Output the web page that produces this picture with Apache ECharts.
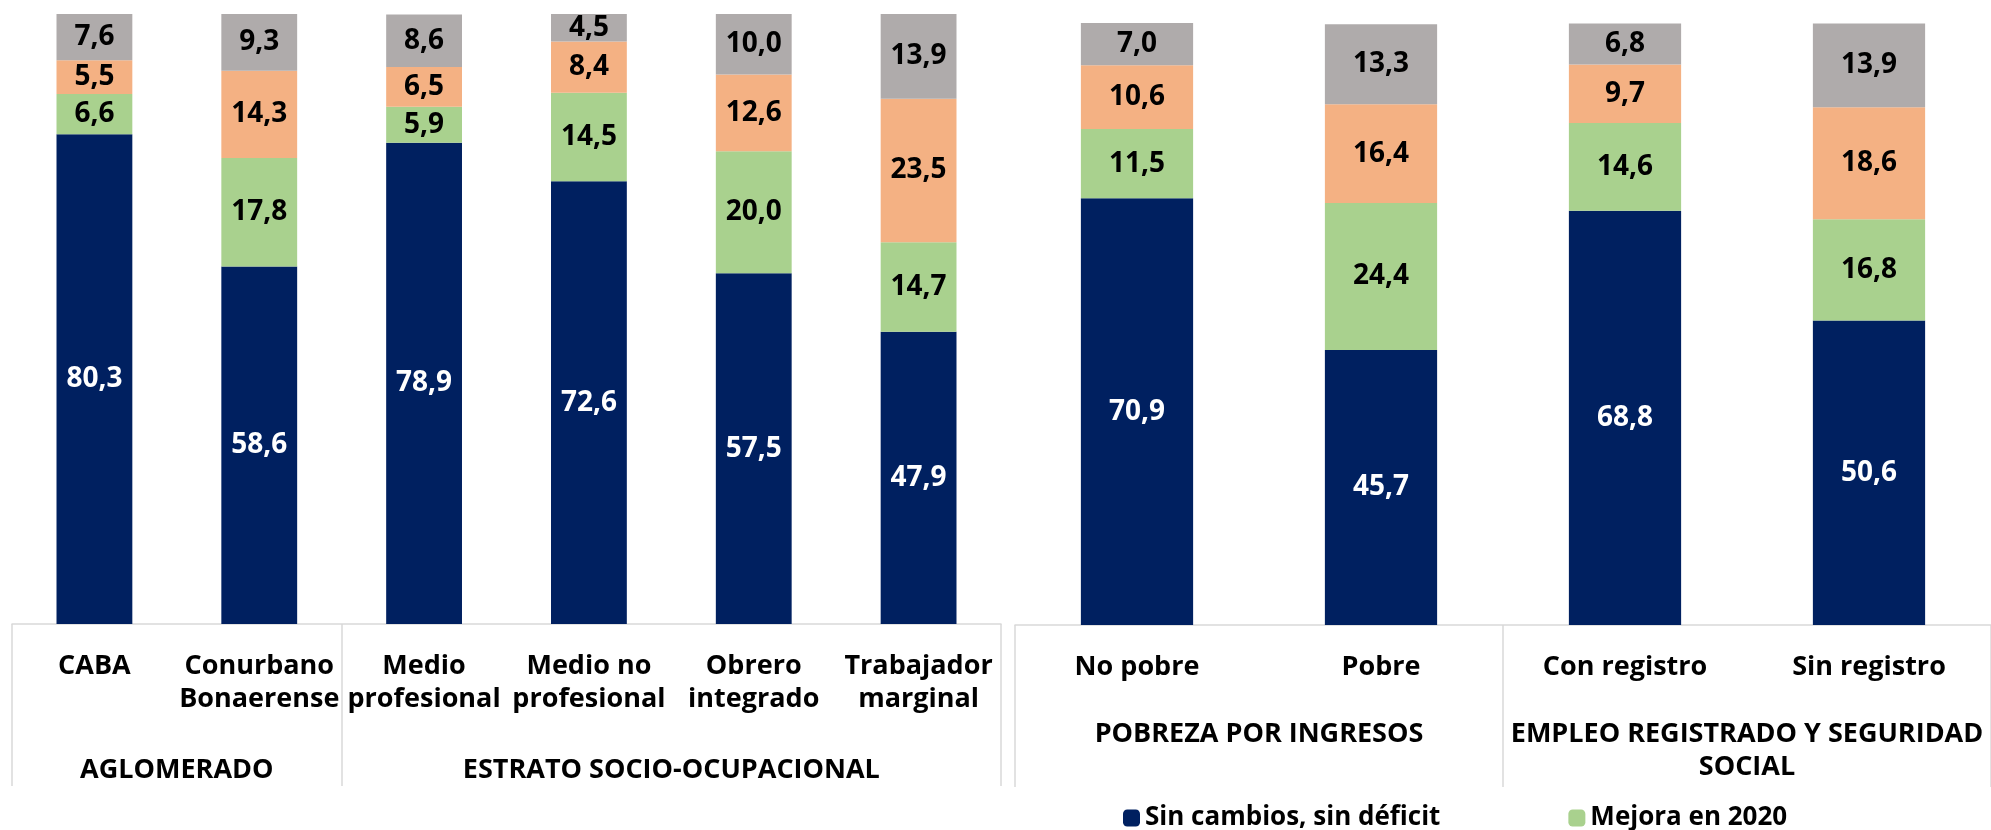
<!DOCTYPE html>
<html>
<head>
<meta charset="utf-8">
<script src="https://cdn.jsdelivr.net/npm/echarts@6/dist/echarts.min.js"></script>
<style>
html, body { margin: 0; padding: 0; background: #fff; }
#main { width: 1991px; height: 830px; }
</style>
</head>
<body>
<div id="main"></div>
<script>
// categorias y valores (%)
var catsLeft = ['CABA', 'Conurbano\nBonaerense', 'Medio\nprofesional', 'Medio no\nprofesional', 'Obrero\nintegrado', 'Trabajador\nmarginal'];
var sinCambiosL = [80.3, 58.6, 78.9, 72.6, 57.5, 47.9];
var mejoraL = [6.6, 17.8, 5.9, 14.5, 20.0, 14.7];
var empeoraL = [5.5, 14.3, 6.5, 8.4, 12.6, 23.5];
var deficitL = [7.6, 9.3, 8.6, 4.5, 10.0, 13.9];

var catsRight = ['No pobre', 'Pobre', 'Con registro', 'Sin registro'];
var sinCambiosR = [70.9, 45.7, 68.8, 50.6];
var mejoraR = [11.5, 24.4, 14.6, 16.8];
var empeoraR = [10.6, 16.4, 9.7, 18.6];
var deficitR = [7.0, 13.3, 6.8, 13.9];

// grupos: nombre y cantidad de categorias
var groupsLeft = ['AGLOMERADO', 'ESTRATO SOCIO-OCUPACIONAL'];
var groupSizeLeft = [2, 4];
var groupsRight = ['POBREZA POR INGRESOS', 'EMPLEO REGISTRADO Y SEGURIDAD\nSOCIAL'];
var groupSizeRight = [2, 2];

var seriesNames = ['Sin cambios, sin déficit', 'Mejora en 2020', 'Empeora en 2020', 'Déficit en ambos años'];
var colors = ['#002060', '#A9D18E', '#F4B183', '#AFABAB'];

var FONT = '"Open Sans"';

function fmt(p) {
    return p.value.toFixed(1).replace('.', ',');
}

// posiciones de separadores y centros de grupo en unidades de categoria
function groupTicks(sizes) {
    var res = [-0.5], acc = -0.5;
    for (var i = 0; i < sizes.length; i++) { acc += sizes[i]; res.push(acc); }
    return res;
}
function groupCenters(sizes) {
    var res = [], acc = -0.5;
    for (var i = 0; i < sizes.length; i++) { res.push(acc + sizes[i] / 2); acc += sizes[i]; }
    return res;
}

function catAxis(idx, cats) {
    return {
        type: 'category', gridIndex: idx, data: cats,
        axisLine: { lineStyle: { color: '#D9D9D9', width: 1.5 } },
        axisTick: { show: false },
        axisLabel: {
            interval: 0, margin: 26, color: '#000', fontFamily: FONT,
            fontWeight: 'bold', fontSize: 27, lineHeight: 33
        }
    };
}
function groupAxis(idx, n, sizes, names, margin) {
    var centers = groupCenters(sizes);
    return {
        type: 'value', gridIndex: idx, position: 'bottom', min: -0.5, max: n - 0.5,
        axisLine: { show: false },
        splitLine: { show: false },
        axisTick: {
            show: true, length: 162, customValues: groupTicks(sizes),
            lineStyle: { color: '#D9D9D9', width: 1.5 }
        },
        axisLabel: {
            customValues: centers, margin: margin, color: '#000', fontFamily: FONT,
            fontWeight: 'bold', fontSize: 27, lineHeight: 33,
            formatter: function (v) {
                for (var i = 0; i < centers.length; i++) {
                    if (Math.abs(centers[i] - v) < 1e-6) return names[i];
                }
                return '';
            }
        }
    };
}

function barSeries(axisIdx, gridIdx, stack, lists) {
    return lists.map(function (d, i) {
        return {
            name: seriesNames[i], type: 'bar', stack: stack,
            xAxisIndex: axisIdx, yAxisIndex: gridIdx,
            barCategoryGap: '54%', data: d,
            itemStyle: { color: colors[i] },
            label: {
                show: true, position: 'inside', formatter: fmt,
                color: i === 0 ? '#fff' : '#000',
                fontFamily: FONT, fontWeight: 'bold', fontSize: 28
            }
        };
    });
}

var myChart = echarts.init(document.getElementById('main'));
var option = {
    animation: false,
    grid: [
        { left: 12, top: 14, width: 989, bottom: 206 },
        { left: 1015, top: 23, width: 981, bottom: 205 }
    ],
    legend: {
        data: [seriesNames[0], seriesNames[1]],
        left: 1118, top: 800, itemWidth: 17, itemHeight: 17, itemGap: 128,
        textStyle: { fontFamily: FONT, fontWeight: 'bold', fontSize: 26, color: '#000' }
    },
    xAxis: [
        catAxis(0, catsLeft),
        groupAxis(0, catsLeft.length, groupSizeLeft, groupsLeft, 130),
        catAxis(1, catsRight),
        groupAxis(1, catsRight.length, groupSizeRight, groupsRight, 93)
    ],
    yAxis: [
        { type: 'value', gridIndex: 0, min: 0, max: 100, show: false },
        { type: 'value', gridIndex: 1, min: 0, max: 100, show: false }
    ],
    series: barSeries(0, 0, 'izq', [sinCambiosL, mejoraL, empeoraL, deficitL])
        .concat(barSeries(2, 1, 'der', [sinCambiosR, mejoraR, empeoraR, deficitR]))
};
myChart.setOption(option);
</script>
</body>
</html>
